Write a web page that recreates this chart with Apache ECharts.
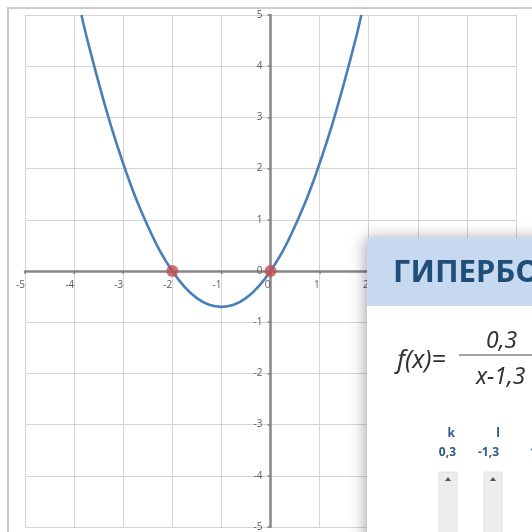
<!DOCTYPE html>
<html>
<head>
<meta charset="utf-8">
<script src="https://cdn.jsdelivr.net/npm/echarts@6/dist/echarts.min.js"></script>
<style>
  html, body { margin: 0; padding: 0; background: #fff; }
  #chart { width: 532px; height: 532px; }
</style>
</head>
<body>
<div id="chart"></div>
<script>
// точки параболы
var curveX = [-3.85, -3.75, -3.5, -3.25, -3, -2.75, -2.5, -2.25, -2, -1.75, -1.5, -1.25, -1,
              -0.75, -0.5, -0.25, 0, 0.25, 0.5, 0.75, 1, 1.25, 1.5, 1.75, 1.85];
var curveY = [5, 4.59, 3.68, 2.84, 2.1, 1.44, 0.88, 0.39, 0, -0.31, -0.53, -0.66, -0.7,
              -0.66, -0.53, -0.31, 0, 0.39, 0.88, 1.44, 2.1, 2.84, 3.68, 4.59, 5];
// корни (красные точки)
var rootX = [-2, 0];
var rootY = [0, 0];
// подписи панели
var panelTitle = 'ГИПЕРБОЛА';
var paramNames = ['k', 'l', 'm'];
var paramValues = ['0,3', '-1,3', '1'];
var numerText = '0,3';
var denomText = 'x-1,3';

var curveData = [];
for (var i = 0; i < curveX.length; i++) curveData.push([curveX[i], curveY[i]]);
var rootData = [];
for (var j = 0; j < rootX.length; j++) rootData.push([rootX[j], rootY[j]]);

var axisGray = '#868686';
var labelStyle = { color: '#595959', fontSize: 10, fontFamily: 'Open Sans' };

// область построения: -5..5 по обеим осям
var G = { left: 25, right: 16, top: 15, bottom: 5 };
var plotW = 532 - G.left - G.right, plotH = 532 - G.top - G.bottom;

// элементы панели поверх графика
var blue = '#2e5a87';
var panelEls = [
  { type: 'rect', shape: { x: 367, y: 238, width: 200, height: 320 },
    style: { fill: '#fff', shadowColor: 'rgba(0,0,0,0.35)', shadowBlur: 14, shadowOffsetX: -2 } },
  { type: 'rect', shape: { x: 367, y: 238, width: 200, height: 68 },
    style: { fill: '#c6d9f1' } },
  { type: 'text', x: 393, y: 273,
    style: { text: panelTitle, fill: '#1f4e79', font: 'bold 31px "Noto Sans"', verticalAlign: 'middle' } },
  { type: 'text', x: 397, y: 361,
    style: { text: 'f(x)=', fill: '#333', font: 'italic 25px "Noto Sans"', verticalAlign: 'middle' } },
  { type: 'line', shape: { x1: 459, y1: 355, x2: 560, y2: 355 },
    style: { stroke: '#444', lineWidth: 1.2 } },
  { type: 'text', x: 486, y: 341,
    style: { text: numerText, fill: '#333', font: 'italic 23px "Noto Sans"', verticalAlign: 'middle' } },
  { type: 'text', x: 476, y: 377,
    style: { text: denomText, fill: '#333', font: 'italic 23px "Noto Sans"', verticalAlign: 'middle' } },
  { type: 'text', x: 455, y: 434,
    style: { text: paramNames[0], fill: blue, font: 'bold 12px "Open Sans"', align: 'right', verticalAlign: 'middle' } },
  { type: 'text', x: 500, y: 434,
    style: { text: paramNames[1], fill: blue, font: 'bold 12px "Open Sans"', align: 'right', verticalAlign: 'middle' } },
  { type: 'text', x: 456, y: 453,
    style: { text: paramValues[0], fill: blue, font: 'bold 12px "Open Sans"', align: 'right', verticalAlign: 'middle' } },
  { type: 'text', x: 499, y: 453,
    style: { text: paramValues[1], fill: blue, font: 'bold 12px "Open Sans"', align: 'right', verticalAlign: 'middle' } },
  { type: 'text', x: 530, y: 453,
    style: { text: paramValues[2], fill: blue, font: 'bold 12px "Open Sans"', verticalAlign: 'middle' } },
  // ползунки
  { type: 'rect', shape: { x: 439, y: 472, width: 18, height: 80 },
    style: { fill: '#ededed', stroke: '#e2e2e2', lineWidth: 1 } },
  { type: 'rect', shape: { x: 484, y: 472, width: 18, height: 80 },
    style: { fill: '#ededed', stroke: '#e2e2e2', lineWidth: 1 } },
  { type: 'polygon', shape: { points: [[445, 481], [451, 481], [448, 477]] },
    style: { fill: '#555' } },
  { type: 'polygon', shape: { points: [[490, 481], [496, 481], [493, 477]] },
    style: { fill: '#555' } }
];
panelEls.forEach(function (el, k) { el.zlevel = 5; el.z = 100 + k; el.silent = true; });

var myChart = echarts.init(document.getElementById('chart'));
myChart.setOption({
  backgroundColor: '#fff',
  animation: false,
  grid: G,
  xAxis: {
    type: 'value', min: -5, max: 5, interval: 1,
    offset: -plotH / 2,   // ось через y = 0
    axisLine: { onZero: false, lineStyle: { color: axisGray, width: 2.5 } },
    axisTick: { show: true, length: 3, lineStyle: { color: axisGray, width: 1.5 } },
    axisLabel: Object.assign({ margin: 9, align: 'right', showMinLabel: true, showMaxLabel: true }, labelStyle),
    splitLine: { show: true, lineStyle: { color: '#d4d4d4', width: 1 } }
  },
  yAxis: {
    type: 'value', min: -5, max: 5, interval: 1,
    offset: -plotW / 2,   // ось через x = 0
    axisLine: { onZero: false, lineStyle: { color: axisGray, width: 2.5 } },
    axisTick: { show: true, length: 3, lineStyle: { color: axisGray, width: 1.5 } },
    axisLabel: Object.assign({ margin: 8, showMinLabel: true, showMaxLabel: true }, labelStyle),
    splitLine: { show: true, lineStyle: { color: '#d4d4d4', width: 1 } }
  },
  series: [{
    type: 'line',
    data: curveData,
    smooth: 0.3,
    symbol: 'none',
    lineStyle: { color: '#4a7ebb', width: 2.6 },
    z: 3
  }, {
    type: 'scatter',
    data: rootData,
    symbolSize: 12,
    itemStyle: { color: '#c0504d' },
    z: 4
  }],
  graphic: [
    // рамка области диаграммы
    { type: 'rect', z: -1, silent: true,
      shape: { x: 8, y: 8, width: 600, height: 600 },
      style: { fill: 'none', stroke: '#cbcbcb', lineWidth: 2 } }
  ].concat(panelEls)
});
</script>
</body>
</html>
